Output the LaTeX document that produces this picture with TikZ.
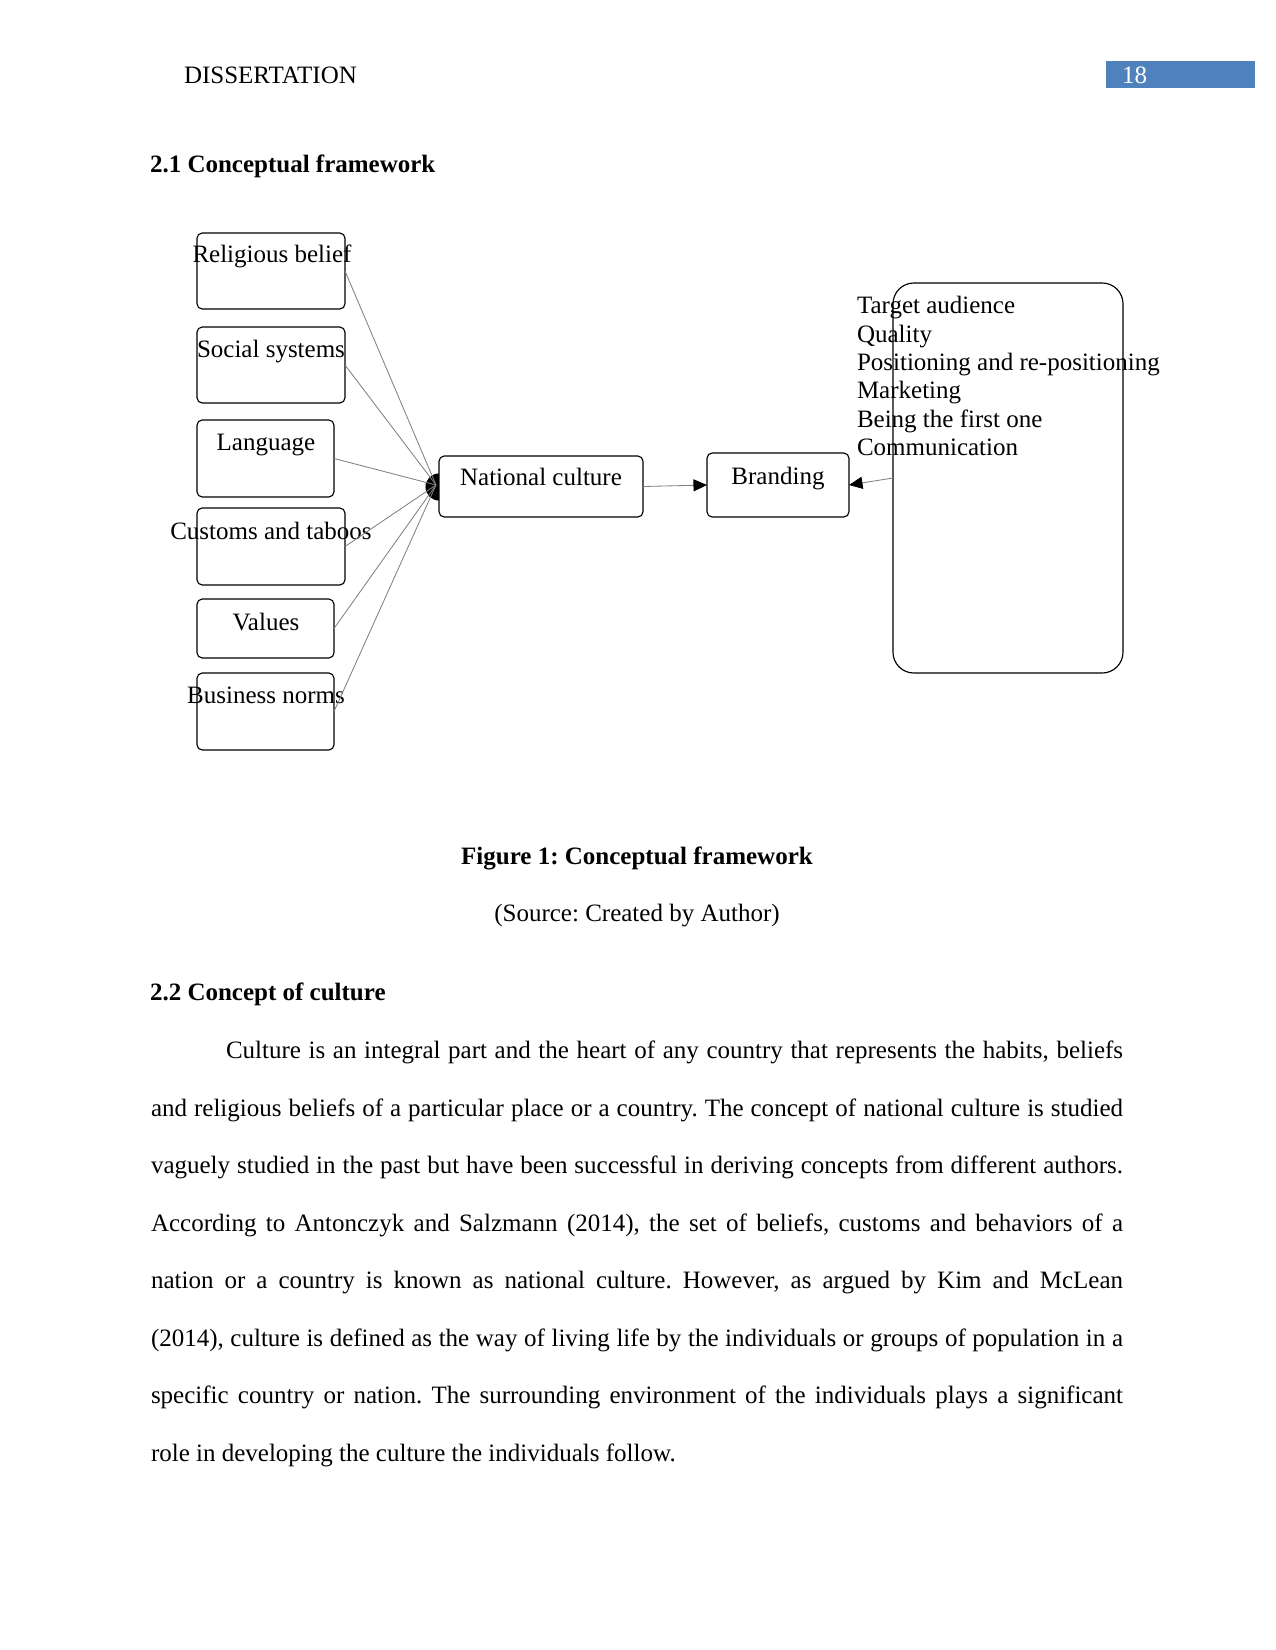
\documentclass[tikz,border=0pt]{standalone}
\usepackage{fontspec}
\setmainfont{Liberation Serif}
\usetikzlibrary{arrows.meta,fit}
\definecolor{hdrblue}{RGB}{79,129,189}
\definecolor{linegray}{RGB}{128,128,128}
\begin{document}
\frenchspacing
\begin{tikzpicture}[x=0.48bp,y=-0.48bp,
  every node/.style={inner sep=0pt, outer sep=0pt, font=\fontsize{12bp}{14bp}\selectfont\frenchspacing},
  box/.style={draw, line width=0.55bp, rounded corners=2.5bp, fill=white, inner sep=0pt},
  bigbox/.style={draw, line width=0.55bp, rounded corners=10bp, inner sep=0pt},
  txt/.style={anchor=base},
  ltxt/.style={anchor=base west},
  bold/.style={font=\fontsize{12bp}{14bp}\selectfont\bfseries\frenchspacing},
  conn/.style={draw=linegray, line width=0.4bp},
  arr/.style={conn, -{Triangle[length=6.5bp,width=5.8bp,color=black]}}
]
\useasboundingbox (0,0) rectangle (1275,1650);
\fill[white] (0,0) rectangle (1275,1650);

% header
\node[ltxt] (hdr) at (184,83) {DISSERTATION};
\node[fill=hdrblue, fit={(1106,61) (1255,88)}] (pagebox) {};
\node[ltxt, text=white] (pagenum) at (1122,83) {18};

\node[ltxt, bold] (h21) at (150,172) {2.1 Conceptual framework};

% dot at the hub
\fill (439,487) circle[radius=6.5bp];

% boxes
\node[box, fit={(197,233) (345,309)}] (rel) {};
\node[box, fit={(197,327) (345,403)}] (soc) {};
\node[box, fit={(197,420) (334,497)}] (lang) {};
\node[box, fit={(197,508) (345,585)}] (cust) {};
\node[box, fit={(197,599) (334,658)}] (val) {};
\node[box, fit={(197,673) (334,750)}] (bus) {};
\node[box, fit={(439,456) (643,517)}] (nat) {};
\node[box, fit={(707,453) (849,517)}] (brand) {};
\node[bigbox, fit={(893,283) (1123,673)}] (big) {};

% box texts
\node[txt] (trel) at (272,262) {Religious belief};
\node[txt] (tsoc) at (271,357) {Social systems};
\node[txt] (tlang) at (266,450) {Language};
\node[txt] (tcust) at (271,539) {Customs and taboos};
\node[txt] (tval) at (266,630) {Values};
\node[txt] (tbus) at (266,703) {Business norms};
\node[txt] (tnat) at (541,485) {National culture};
\node[txt] (tbrand) at (778,484) {Branding};

\node[ltxt] (b1) at (857,313) {Target audience};
\node[ltxt] (b2) at (857,342) {Quality};
\node[ltxt] (b3) at (857,370) {Positioning and re-positioning};
\node[ltxt] (b4) at (857,398) {Marketing};
\node[ltxt] (b5) at (857,427) {Being the first one};
\node[ltxt] (b6) at (857,455) {Communication};

% connectors
\coordinate (hub) at (436,485);
\foreach \b in {rel,soc,lang,cust,val,bus} \draw[conn] (\b.east) -- (hub);
\draw[arr] (nat.east) -- (brand.west);
\draw[arr] (big.west) -- (brand.east);

% caption
\node[txt, bold] (cap) at (637,864) {Figure 1: Conceptual framework};
\node[txt] (src) at (637,921) {(Source: Created by Author)};

\node[ltxt, bold] (h22) at (150,1000) {2.2 Concept of culture};

% paragraph
\node[ltxt] (p1) at (226,1058) {\makebox[430.56bp][s]{Culture is an integral part and the heart of any country that represents the habits, beliefs}};
\node[ltxt] (p2) at (151,1116) {\makebox[466.56bp][s]{and religious beliefs of a particular place or a country. The concept of national culture is studied}};
\node[ltxt] (p3) at (151,1173) {\makebox[466.56bp][s]{vaguely studied in the past but have been successful in deriving concepts from different authors.}};
\node[ltxt] (p4) at (151,1231) {\makebox[466.56bp][s]{According to Antonczyk and Salzmann (2014), the set of beliefs, customs and behaviors of a}};
\node[ltxt] (p5) at (151,1288) {\makebox[466.56bp][s]{nation or a country is known as national culture. However, as argued by Kim and McLean}};
\node[ltxt] (p6) at (151,1346) {\makebox[466.56bp][s]{(2014), culture is defined as the way of living life by the individuals or groups of population in a}};
\node[ltxt] (p7) at (151,1403) {\makebox[466.56bp][s]{specific country or nation. The surrounding environment of the individuals plays a significant}};
\node[ltxt] (p8) at (151,1461) {role in developing the culture the individuals follow.};
\end{tikzpicture}
\end{document}
